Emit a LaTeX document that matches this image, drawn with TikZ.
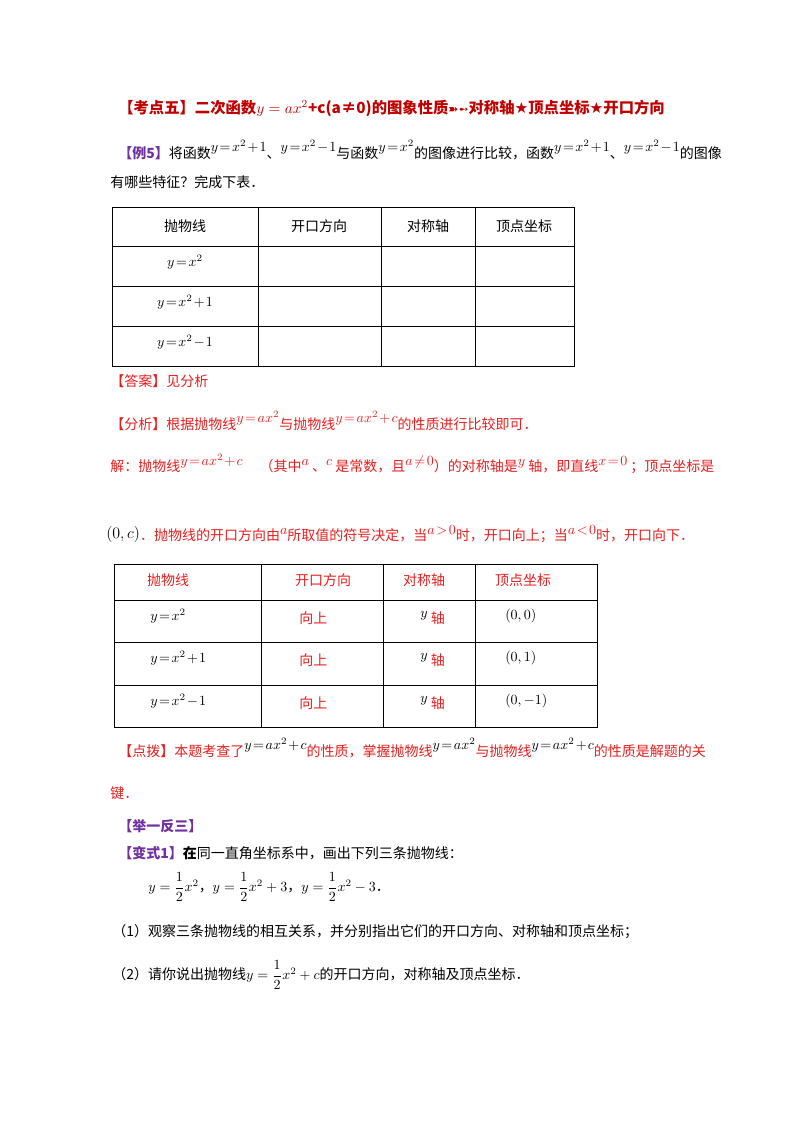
\documentclass[tikz,border=0pt]{standalone}
\usepackage{fix-cm}
\usepackage{amsmath}
\usepackage{fontspec}
\setmainfont{Liberation Serif}
\newfontfamily\cjk{Noto Sans CJK SC}
\newfontfamily\djsym{DejaVu Sans}
\newcommand\upm[1]{\raisebox{5pt}{\fontsize{10.5}{12}\selectfont$\medmuskip=1.5mu\thickmuskip=2mu #1$}}
\definecolor{tred}{RGB}{192,0,0}
\definecolor{pur}{RGB}{112,48,160}
\definecolor{ared}{RGB}{230,30,30}
\begin{document}
\begin{tikzpicture}[x=0.75pt,y=-0.75pt,
 t/.style={anchor=west,inner sep=0,font=\cjk\fontsize{10.5}{12}\selectfont},
 tr/.style={t,text=ared},
 c/.style={inner sep=0,font=\cjk\fontsize{10.5}{12}\selectfont},
 cr/.style={c,text=ared},
 grid/.style={line width=0.6pt}]
\useasboundingbox (0,0) rectangle (800,1132);
\node[t,text=tred,font=\cjk\bfseries\fontsize{11.5}{13}\selectfont] (title) at (118,108) {【考点五】二次函数$y=ax^2$+c(a≠0)的图象性质{\djsym\small ➽➻}对称轴{\djsym★}顶点坐标{\djsym★}开口方向};
\node[t] (ex) at (118,150) {\textcolor{pur}{\bfseries【例5】}将函数\upm{y=x^2+1}、\upm{y=x^2-1}与函数\upm{y=x^2}的图像进行比较，函数\upm{y=x^2+1}、\upm{y=x^2-1}的图像};
\node[t] (ex2) at (110,182) {有哪些特征？完成下表．};
% table 1
\draw[grid] (112,207) rectangle (574,366);
\foreach \yy in {246,286,326} \draw[grid] (112,\yy) -- (574,\yy);
\foreach \xx in {258,381,475} \draw[grid] (\xx,207) -- (\xx,366);
\node[c] (h1) at (185,226) {抛物线};
\node[c] (h2) at (319,226) {开口方向};
\node[c] (h3) at (428,226) {对称轴};
\node[c] (h4) at (524,226) {顶点坐标};
\node[c] (r1) at (185,264) {\upm{y=x^2}};
\node[c] (r2) at (185,304) {\upm{y=x^2+1}};
\node[c] (r3) at (185,344) {\upm{y=x^2-1}};
\node[tr] (ans) at (110,381) {【答案】见分析};
\node[tr] (ana) at (110,421) {【分析】根据抛物线\upm{y=ax^2}与抛物线\upm{y=ax^2+c}的性质进行比较即可．};
\node[tr] (sol) at (110,464) {解：抛物线\upm{y=ax^2+c} \quad（其中\upm{a} 、\upm{c} 是常数，且\upm{a\neq0}）的对称轴是\upm{y} 轴，即直线\upm{x=0} ；顶点坐标是};
\node[tr] (sol2) at (106,534) {\textcolor{black}{\raisebox{2pt}{\fontsize{12}{13}\selectfont$\left(0,c\right)$}}．抛物线的开口方向由\upm{a}所取值的符号决定，当\upm{a>0}时，开口向上；当\upm{a<0}时，开口向下．};
% table 2
\draw[grid] (114,564) rectangle (597,727);
\foreach \yy in {600,642,685} \draw[grid] (114,\yy) -- (597,\yy);
\foreach \xx in {261,383,475} \draw[grid] (\xx,564) -- (\xx,727);
\node[cr] (g1) at (168,580) {抛物线};
\node[cr] (g2) at (323,580) {开口方向};
\node[cr] (g3) at (424,580) {对称轴};
\node[cr] (g4) at (523,580) {顶点坐标};
\node[c,anchor=west] (s1) at (150,618) {\upm{y=x^2}};
\node[c,anchor=west] (s2) at (150,660) {\upm{y=x^2+1}};
\node[c,anchor=west] (s3) at (150,703) {\upm{y=x^2-1}};
\foreach \yy/\v in {618/{0,0},660/{0,1},703/{0,-1}}{
 \node[cr,anchor=west] at (299,\yy) {向上};
 \node[cr,anchor=west] at (420,\yy) {\textcolor{black}{\upm{y}} 轴};
 \node[c,anchor=west] at (505,\yy) {\upm{(\v)}};
}
\node[tr] (dian) at (118,748) {【点拨】本题考查了\textcolor{black}{\upm{y=ax^2+c}}的性质，掌握抛物线\textcolor{black}{\upm{y=ax^2}}与抛物线\textcolor{black}{\upm{y=ax^2+c}}的性质是解题的关};
\node[tr] (jian) at (110,793) {键．};
\node[t,text=pur,font=\cjk\bfseries\fontsize{10.5}{12}\selectfont] (jy) at (118,826) {【举一反三】};
\node[t] (bs) at (118,853) {\textcolor{pur}{\bfseries【变式1】}\textbf{在}同一直角坐标系中，画出下列三条抛物线：};
\node[t] (eq) at (148,887) {\fontsize{10.5}{12}\selectfont$y=\dfrac12x^2$，$y=\dfrac12x^2+3$，$y=\dfrac12x^2-3$．};
\node[t] (q1) at (112,932) {（1）观察三条抛物线的相互关系，并分别指出它们的开口方向、对称轴和顶点坐标；};
\node[t] (q2) at (112,975) {（2）请你说出抛物线{\fontsize{10.5}{12}\selectfont$y=\dfrac12x^2+c$}的开口方向，对称轴及顶点坐标．};
\end{tikzpicture}
\end{document}
